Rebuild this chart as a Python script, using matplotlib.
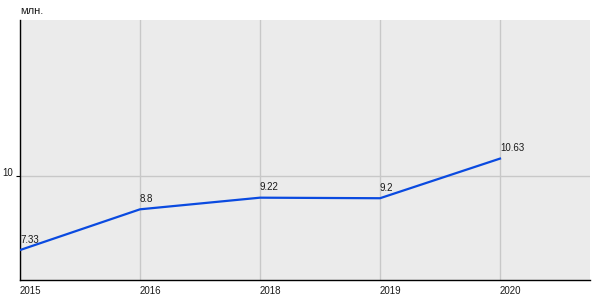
import matplotlib
matplotlib.use("Agg")
import matplotlib.pyplot as plt

years = ["2015", "2016", "2018", "2019", "2020"]
values = [7.33, 8.8, 9.22, 9.2, 10.63]
labels = ["7.33", "8.8", "9.22", "9.2", "10.63"]

plt.rcParams['font.family'] = ['Liberation Sans', 'DejaVu Sans']

fig = plt.figure(figsize=(6, 3), dpi=100)
ax = fig.add_axes([20/600, 20/300, 570/600, 260/300])
ax.set_facecolor('#ebebeb')
x = list(range(len(years)))
ax.plot(x, values, color='#0a4ae0', linewidth=1.6, zorder=3)
for xi, v, lab in zip(x, values, labels):
    ax.annotate(lab, (xi, v), xytext=(0, 4), textcoords='offset points',
                ha='left', va='bottom', fontsize=7, color='#1a1a1a')
ax.set_xlim(0, 4.75)
ax.set_ylim(6.25, 15.63)
ax.set_xticks(x)
ax.set_xticklabels(years, ha='left', fontsize=7, color='#1a1a1a')
ax.set_yticks([10])
ax.set_yticklabels(["10"], fontsize=7, color='#1a1a1a', va='baseline')
ax.tick_params(axis='x', length=0, pad=4)
ax.tick_params(axis='y', length=3, pad=2)
ax.grid(True, color='#c8c8c8', linewidth=1)
ax.set_axisbelow(True)
for s in ['top', 'right']:
    ax.spines[s].set_visible(False)
for s in ['left', 'bottom']:
    ax.spines[s].set_color('black')
    ax.spines[s].set_linewidth(1)
fig.text(20/600, 1 - 11/300, "млн.", fontsize=8, ha='left', va='center', color='#1a1a1a')
fig.savefig("out.png", dpi=100)
